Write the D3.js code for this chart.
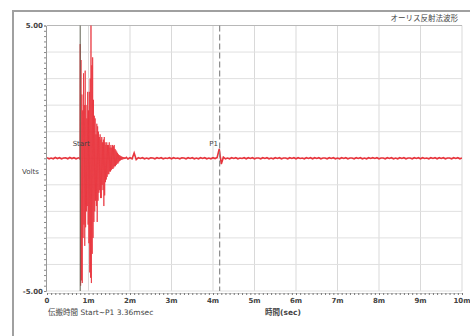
<!DOCTYPE html>
<html>
<head>
<meta charset="utf-8">
<script src="https://cdn.jsdelivr.net/npm/d3@7"></script>
<style>
  body { margin: 0; background: #fff; }
  text { font-family: "DejaVu Sans", "Noto Sans CJK JP", sans-serif; fill: #444; }
</style>
</head>
<body>
<div id="chart"></div>
<script>
// time axis in ms, amplitude in volts
const xTickValues = [0, 1, 2, 3, 4, 5, 6, 7, 8, 9, 10];
const xTickLabels = ["0", "1m", "2m", "3m", "4m", "5m", "6m", "7m", "8m", "9m", "10m"];
const yTickValues = [5, 4, 3, 2, 1, 0, -1, -2, -3, -4, -5];
const yTickLabels = ["5.00", "", "", "", "", "", "", "", "", "", "-5.00"];

const startTime = 0.80;
const p1Time = 4.16;

// before the hit: 0 .. 0.75 ms, every 0.05 ms
const leadStep = 0.05;
const leadVolts = [0.02, -0.02, 0.01, -0.02, 0.03, -0.01, 0.02, -0.02, 0.01, 0.02, -0.02, 0.03, -0.01, 0.02, -0.02, 0.01];

// the burst: 0.78 .. 1.89 ms, every 0.01 ms
const burstStart = 0.78;
const burstStep = 0.01;
const burstVolts = [
  0.02, -0.05, 4.3, -4.8, 3.7, -4.6, 2.4, -4.7, 1.8, -3.0,
  3.2, -2.5, 2.0, -3.3, 3.3, -2.6, 2.0, -2.0, 1.5, -1.8,
  2.5, -2.5, 1.8, -3.2, 2.5, -4.3, 3.0, -4.5, 5.2, -4.7,
  3.5, -3.6, 3.8, -3.0, 2.2, -2.4, 1.6, -2.0, 1.5, -1.6,
  0.9, -1.8, 1.3, -2.4, 1.2, -1.6, 1.0, -1.3, 0.8, -1.2,
  0.9, -1.5, 0.7, -1.5, 0.8, -1.0, 0.6, -1.2, 0.7, -1.8,
  0.8, -1.4, 0.6, -0.9, 0.5, -0.8, 0.6, -0.7, 0.5, -0.6,
  0.5, -0.6, 0.6, -0.5, 0.4, -0.5, 0.5, -0.45, 0.4, -0.4,
  0.5, -0.4, 0.45, -0.35, 0.5, -0.3, 0.35, -0.3, 0.3, -0.25,
  0.25, -0.2, 0.2, -0.2, 0.15, -0.15, 0.12, -0.1, 0.1, -0.08,
  0.08, -0.06, 0.06, -0.05, 0.05, -0.04, 0.04, -0.03, 0.04, -0.03,
  0.03, -0.02
];

// after the burst: 1.90 .. 10.00 ms, every 0.05 ms
const tailStart = 1.90;
const tailStep = 0.05;
const tailVolts = [
  0.05, -0.03, 0.02, -0.02, 0.2, -0.05, 0.02, -0.01, 0.02, -0.02,
  0.01, -0.02, 0.02, 0.01, -0.02, 0.02, -0.01, 0.02, -0.02, 0.01,
  -0.01, 0.02, -0.02, 0.02, -0.01, 0.01, -0.02, 0.02, 0.01, -0.02,
  0.02, -0.01, 0.02, -0.02, 0.01, -0.02, 0.02, -0.01, 0.02, -0.02,
  0.01, -0.02, 0.02, -0.01, 0.03, 0.35, -0.22, 0.04, -0.02, 0.01,
  -0.02, 0.02, -0.01, 0.02, -0.02, 0.01, -0.01, 0.02, -0.02, 0.02,
  -0.01, 0.02, -0.02, 0.01, 0.01, -0.02, 0.02, -0.01, 0.02, -0.02,
  0.01, -0.02, 0.02, -0.01, 0.02, -0.02, 0.01, 0.01, -0.02, 0.02,
  -0.01, 0.02, -0.02, 0.02, -0.01, 0.01, -0.02, 0.02, -0.01, 0.02,
  -0.02, 0.02, -0.01, 0.02, -0.02, 0.01, 0.01, -0.02, 0.02, -0.01,
  0.02, -0.02, 0.01, -0.02, 0.02, -0.01, 0.02, -0.02, 0.01, 0.01,
  -0.02, 0.02, -0.01, 0.02, -0.02, 0.01, -0.02, 0.02, -0.01, 0.02,
  -0.01, 0.02, -0.02, 0.01, 0.01, -0.02, 0.02, -0.01, 0.02, -0.02,
  0.01, -0.02, 0.02, -0.01, 0.02, -0.02, 0.01, 0.01, -0.02, 0.02,
  -0.01, 0.02, -0.02, 0.02, -0.01, 0.01, -0.02, 0.02, -0.01, 0.02,
  -0.02, 0.02, -0.01, 0.02, -0.02, 0.01, 0.01, -0.02, 0.02, -0.01,
  0.02, -0.02, 0.01
];

const title = "オーリス反射法波形";
const yTitle = "Volts";
const xTitle = "時間(sec)";
const note = "伝搬時間 Start~P1 3.36msec";

const width = 470, height = 336;
const plot = { left: 47, right: 462, top: 25.5, bottom: 291 };
const traceColor = "#e8343c";

const svg = d3.select("#chart").append("svg")
  .attr("width", width)
  .attr("height", height);

svg.append("rect").attr("width", width).attr("height", height).attr("fill", "#fff");

// outer frame (top and left edges visible)
svg.append("path")
  .attr("d", "M13,336 L13,11 L470,11")
  .attr("fill", "none")
  .attr("stroke", "#a0a0a0")
  .attr("stroke-width", 2);

const x = d3.scaleLinear().domain([0, 10]).range([plot.left, plot.right]);
const y = d3.scaleLinear().domain([-5, 5]).range([plot.bottom, plot.top]);

// grid
svg.append("g")
  .selectAll("line")
  .data(xTickValues.slice(1))
  .enter()
  .append("line")
  .attr("x1", d => x(d)).attr("x2", d => x(d))
  .attr("y1", plot.top).attr("y2", plot.bottom)
  .attr("stroke", "#d9d9d9");

svg.append("g")
  .selectAll("line")
  .data(yTickValues)
  .enter()
  .append("line")
  .attr("x1", plot.left).attr("x2", plot.right)
  .attr("y1", d => y(d)).attr("y2", d => y(d))
  .attr("stroke", d => d === 5 ? "#b8b8b8" : "#e0e0e0");

// y axis with minor ticks
const yAxis = svg.append("g")
  .attr("transform", "translate(" + (plot.left - 1) + ",0)")
  .call(d3.axisLeft(y).tickValues(d3.range(-5, 5.01, 0.2)).tickSize(2).tickFormat(""));
yAxis.select(".domain").attr("stroke", "#999");
yAxis.selectAll(".tick line").attr("stroke", "#888");

svg.append("g")
  .selectAll("text")
  .data(yTickValues)
  .enter()
  .append("text")
  .attr("x", plot.left - 4)
  .attr("y", d => y(d) + 2.5)
  .attr("text-anchor", "end")
  .attr("font-size", 7)
  .attr("font-weight", "bold")
  .text((d, i) => yTickLabels[i]);

// x axis with minor ticks
const xAxisY = plot.bottom + 2;
const xAxis = svg.append("g")
  .attr("transform", "translate(0," + xAxisY + ")")
  .call(d3.axisBottom(x).tickValues(d3.range(0, 10.01, 0.1)).tickSize(2).tickFormat(""));
xAxis.select(".domain").attr("stroke", "#ccc");
xAxis.selectAll(".tick line").attr("stroke", "#777");

svg.append("g")
  .selectAll("text")
  .data(xTickValues)
  .enter()
  .append("text")
  .attr("x", d => x(d))
  .attr("y", xAxisY + 10)
  .attr("text-anchor", "middle")
  .attr("font-size", 7)
  .attr("font-weight", "bold")
  .text((d, i) => xTickLabels[i]);

// waveform: baseline drawn a little thicker than the burst
const leadPts = leadVolts.map((v, i) => [i * leadStep, v]);
const burstPts = burstVolts.map((v, i) => [burstStart + i * burstStep, v]);
const tailPts = tailVolts.map((v, i) => [tailStart + i * tailStep, v]);
const line = d3.line().x(d => x(d[0])).y(d => y(d[1]));

svg.append("clipPath").attr("id", "clip")
  .append("rect")
  .attr("x", plot.left).attr("y", plot.top)
  .attr("width", plot.right - plot.left).attr("height", plot.bottom - plot.top);

const trace = svg.append("g").attr("clip-path", "url(#clip)");

trace.append("path")
  .datum(leadPts.concat([burstPts[0]]))
  .attr("fill", "none")
  .attr("stroke", traceColor)
  .attr("stroke-width", 1.6)
  .attr("d", line);

trace.append("path")
  .datum(burstPts.concat([tailPts[0]]))
  .attr("fill", "none")
  .attr("stroke", traceColor)
  .attr("stroke-width", 0.8)
  .attr("d", line);

trace.append("path")
  .datum(tailPts)
  .attr("fill", "none")
  .attr("stroke", traceColor)
  .attr("stroke-width", 1.6)
  .attr("d", line);

// markers
svg.append("line")
  .attr("x1", x(startTime)).attr("x2", x(startTime))
  .attr("y1", plot.top).attr("y2", plot.bottom)
  .attr("stroke", "#5f6050")
  .attr("stroke-width", 1);

svg.append("line")
  .attr("x1", x(p1Time)).attr("x2", x(p1Time))
  .attr("y1", plot.top).attr("y2", plot.bottom)
  .attr("stroke", "#8a8a8a")
  .attr("stroke-width", 1.2)
  .attr("stroke-dasharray", "6,3");

svg.append("text")
  .attr("x", x(startTime) + 1).attr("y", y(0) - 12)
  .attr("text-anchor", "middle")
  .attr("font-size", 7)
  .text("Start");

svg.append("text")
  .attr("x", x(p1Time) - 6).attr("y", y(0) - 12)
  .attr("text-anchor", "middle")
  .attr("font-size", 7)
  .text("P1");

// titles
svg.append("text")
  .attr("x", 458).attr("y", 21)
  .attr("text-anchor", "end")
  .attr("font-size", 7.5)
  .text(title);

svg.append("text")
  .attr("x", 22).attr("y", 174)
  .attr("font-size", 7)
  .text(yTitle);

svg.append("text")
  .attr("x", 265).attr("y", 315)
  .attr("font-size", 7.5)
  .attr("font-weight", "bold")
  .text(xTitle);

svg.append("text")
  .attr("x", 48).attr("y", 315)
  .attr("font-size", 7.5)
  .text(note);
</script>
</body>
</html>
